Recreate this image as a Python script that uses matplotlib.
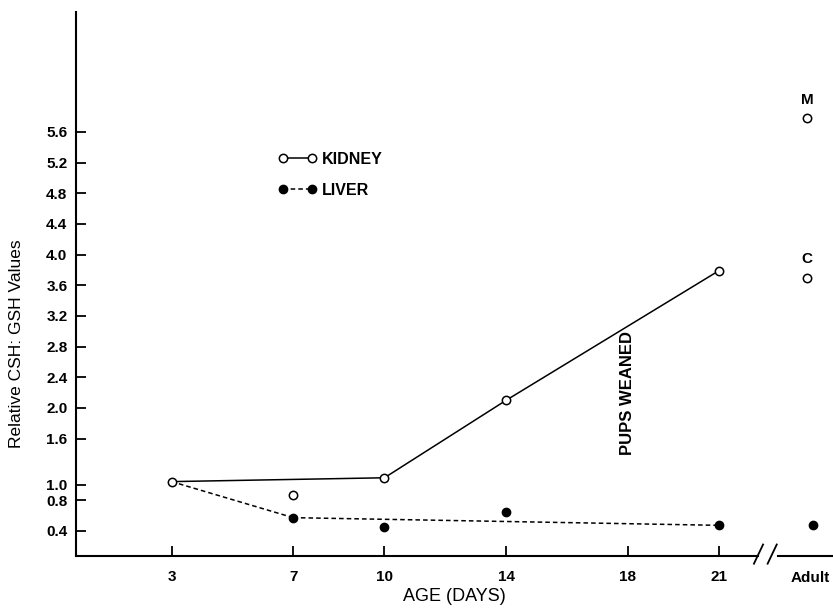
import matplotlib
matplotlib.use('Agg')
import matplotlib.pyplot as plt
from matplotlib.lines import Line2D

plt.rcParams['font.family'] = ['Liberation Sans', 'DejaVu Sans']

# kidney: line goes through 3, 10, 14, 21; day 7 point sits off the line
kidney_line_days = [3, 10, 14, 21]
kidney_line_vals = [1.04, 1.09, 2.10, 3.79]
kidney_extra_days = [7]
kidney_extra_vals = [0.86]

# liver: dashed line is a trend, 10 and 14 plotted as loose points
liver_line_days = [3, 7, 21]
liver_line_vals = [1.04, 0.57, 0.47]
liver_extra_days = [10, 14]
liver_extra_vals = [0.45, 0.65]

adult_x = 24
adult_kidney = {'M': 5.78, 'C': 3.70}
adult_liver = 0.47

xticks = [3, 7, 10, 14, 18, 21]
yticks = [0.4, 0.8, 1.0, 1.6, 2.0, 2.4, 2.8, 3.2, 3.6, 4.0, 4.4, 4.8, 5.2, 5.6]

fig = plt.figure(figsize=(8.33, 6.08), dpi=100)
ax = fig.add_axes([0.091, 0.0855, 0.909, 0.8945])
ax.set_xlim(-0.15, 24.75)
ax.set_ylim(0.07, 7.16)

# kidney
ax.plot(kidney_line_days, kidney_line_vals, '-', color='black', lw=1.1,
        marker='o', mfc='white', mec='black', ms=6, mew=1.1, zorder=3)
ax.plot(kidney_extra_days, kidney_extra_vals, 'o', mfc='white', mec='black', ms=6, mew=1.1)

# liver
ax.plot(liver_line_days[1:], liver_line_vals[1:], '--', color='black', lw=1.1,
        marker='o', mfc='black', mec='black', ms=6, dashes=(3, 2))
ax.plot(liver_line_days[:2], liver_line_vals[:2], '--', color='black', lw=1.1, dashes=(3, 2), zorder=2)
ax.plot(liver_extra_days, liver_extra_vals, 'o', color='black', ms=6)

# adult values
for lab, v in adult_kidney.items():
    ax.plot(adult_x - 0.1, v, 'o', mfc='white', mec='black', ms=6, mew=1.1)
    ax.text(adult_x - 0.1, v + 0.15, lab, ha='center', va='bottom', fontsize=11, fontweight='bold')
ax.plot(adult_x + 0.1, adult_liver, 'o', color='black', ms=6)

ax.text(18, 2.2, 'PUPS WEANED', rotation=90, ha='center', va='center', fontsize=12, fontweight='bold')

# legend
handles = [
    Line2D([0], [0], color='black', lw=1.1, marker='o', mfc='white', mec='black', ms=6, mew=1.1),
    Line2D([0], [0], color='black', lw=1.1, ls=(0, (3, 2)), marker='o', mfc='black', mec='black', ms=6),
]
leg = ax.legend(handles, ['KIDNEY', 'LIVER'], loc='upper left', bbox_to_anchor=(0.248, 0.77),
                frameon=False, numpoints=2, handlelength=2.4, handletextpad=0.35, labelspacing=1.0,
                prop={'weight': 'bold', 'size': 11.5})

# axes styling
for s in ['top', 'right']:
    ax.spines[s].set_visible(False)
ax.spines['left'].set_linewidth(1.5)
ax.spines['bottom'].set_linewidth(1.5)
ax.spines['bottom'].set_bounds(-0.15, 22.3)
ax.plot([22.95, 24.75], [0.07, 0.07], color='black', lw=1.5, clip_on=False)
for bx in [22.3, 22.75]:
    ax.plot([bx - 0.15, bx + 0.15], [-0.03, 0.22], color='black', lw=1.3, clip_on=False)

ax.set_xticks(xticks)
ax.set_xticklabels([str(t) for t in xticks], fontweight='bold')
ax.set_yticks(yticks)
ax.set_yticklabels(['%.1f' % t for t in yticks], fontweight='bold')
ax.tick_params(direction='in', length=7, width=1.3, labelsize=11, pad=6)
ax.tick_params(axis='x', pad=10)
ax.text(adult_x, -0.12, 'Adult', ha='center', va='top', fontsize=11, fontweight='bold')

ax.set_xlabel('AGE (DAYS)', fontsize=13, labelpad=3)
ax.set_ylabel('Relative CSH: GSH Values', fontsize=12.5, labelpad=8)
ax.yaxis.set_label_coords(-0.068, 0.39)

fig.savefig('out.png', dpi=100)
